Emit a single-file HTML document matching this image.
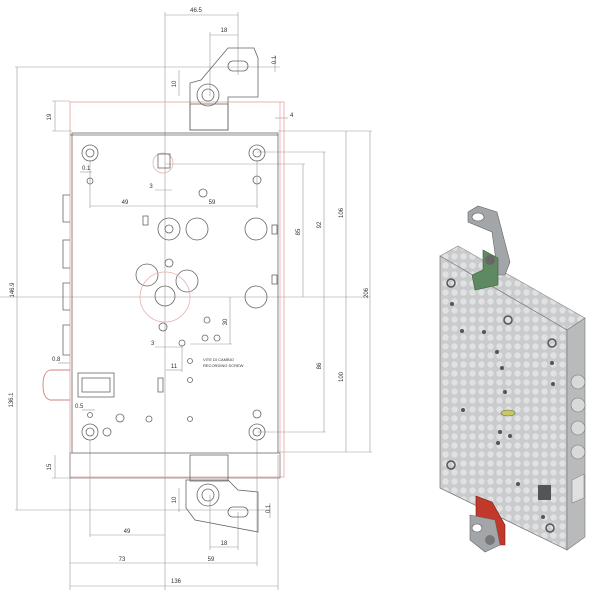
<!DOCTYPE html>
<html><head><meta charset="utf-8"><style>
html,body{margin:0;padding:0;background:#fff;width:600px;height:600px;overflow:hidden}
svg{display:block}
text{font-family:"Liberation Sans",sans-serif;font-size:6px;fill:#333}
</style></head><body>
<svg width="600" height="600" viewBox="0 0 600 600" xmlns="http://www.w3.org/2000/svg">
<defs>
<pattern id="dots" width="9" height="9" patternUnits="userSpaceOnUse">
<rect width="9" height="9" fill="#c9cbcc"/>
<circle cx="4.5" cy="4.5" r="3.2" fill="#dfe1e2"/>
</pattern>
</defs>
<g fill="none" stroke="#999" stroke-width="0.6">
<!-- long construction lines -->
<line x1="165" y1="12" x2="165" y2="590"/>
<line x1="0" y1="297" x2="370" y2="297"/>
<!-- left 146.9 -->
<line x1="17" y1="67" x2="17" y2="510"/>
<line x1="15" y1="67" x2="280" y2="67"/>
<line x1="15" y1="510" x2="270" y2="510"/>
<!-- 19 top -->
<line x1="55" y1="101" x2="55" y2="131"/><line x1="52" y1="101" x2="70" y2="101"/><line x1="52" y1="131" x2="72" y2="131"/>
<!-- 15 bottom -->
<line x1="55" y1="455" x2="55" y2="478"/><line x1="52" y1="478" x2="72" y2="478"/>
<!-- top dims -->
<line x1="165" y1="15" x2="238" y2="15"/><line x1="238" y1="12" x2="238" y2="75"/>
<line x1="210" y1="35" x2="238" y2="35"/><line x1="210" y1="32" x2="210" y2="96"/>
<line x1="179" y1="70" x2="179" y2="96"/>
<line x1="275" y1="55" x2="275" y2="72"/>
<!-- right dims -->
<line x1="303" y1="164" x2="303" y2="297"/><line x1="165" y1="164" x2="305" y2="164"/>
<line x1="324" y1="152" x2="324" y2="432"/><line x1="257" y1="152" x2="326" y2="152"/><line x1="257" y1="432" x2="326" y2="432"/>
<line x1="346" y1="131" x2="346" y2="452"/>
<line x1="370" y1="131" x2="370" y2="452"/><line x1="278" y1="131" x2="372" y2="131"/><line x1="278" y1="452" x2="372" y2="452"/>
<line x1="275" y1="118" x2="288" y2="118"/>
<line x1="230" y1="297" x2="230" y2="344"/><line x1="190" y1="344" x2="232" y2="344"/>
<!-- inner dims -->
<line x1="90" y1="206" x2="257" y2="206"/><line x1="90" y1="160" x2="90" y2="208"/><line x1="257" y1="160" x2="257" y2="208"/>
<line x1="155" y1="190" x2="172" y2="190"/>
<line x1="155" y1="347" x2="182" y2="347"/>
<line x1="166" y1="370" x2="182" y2="370"/><line x1="182" y1="345" x2="182" y2="372"/>
<line x1="58" y1="363" x2="70" y2="363"/>
<line x1="82" y1="410" x2="95" y2="410"/>
<line x1="80" y1="172" x2="92" y2="172"/>
<!-- bottom dims -->
<line x1="90" y1="440" x2="90" y2="537"/><line x1="90" y1="535" x2="165" y2="535"/>
<line x1="70" y1="455" x2="70" y2="590"/><line x1="70" y1="563" x2="165" y2="563"/>
<line x1="257" y1="440" x2="257" y2="566"/><line x1="165" y1="563" x2="257" y2="563"/>
<line x1="278" y1="455" x2="278" y2="590"/><line x1="70" y1="586" x2="278" y2="586"/>
<line x1="210" y1="495" x2="210" y2="550"/><line x1="238" y1="512" x2="238" y2="550"/><line x1="210" y1="547" x2="238" y2="547"/>
<line x1="179" y1="488" x2="179" y2="512"/>
<line x1="270" y1="503" x2="270" y2="518"/>
</g>
<!-- red outline -->
<rect x="70" y="102" width="214" height="375" fill="none" stroke="#e8a0a0" stroke-width="0.8"/>
<line x1="280" y1="102" x2="280" y2="477" stroke="#e8a0a0" stroke-width="0.7"/>
<!-- body -->
<g fill="none" stroke="#666" stroke-width="0.8">
<rect x="72" y="133" width="206" height="320"/>
<line x1="70" y1="135" x2="278" y2="135"/>
<rect x="70" y="453" width="210" height="25" stroke="#888"/>
<!-- hinges left -->
<path d="M70 195 H63 V222 H70 M70 240 H63 V268 H70 M70 283 H63 V310 H70 M70 325 H63 V355 H70"/>
<!-- top bracket -->
<path d="M190 130 V83 L201 80 L228 48 H254 L258 58 V97 L228 97 V110 L228 130 Z"/>
<rect x="190" y="104" width="38" height="26"/>
<circle cx="208" cy="95" r="11"/><circle cx="208" cy="95" r="6"/>
<rect x="228" y="61" width="20" height="10" rx="5"/>
<!-- bottom bracket -->
<rect x="190" y="455" width="38" height="26"/>
<path d="M186 480 V508 L195 520 L258 532 V492 L238 490 L228 480 Z"/>
<circle cx="208" cy="495" r="11"/><circle cx="208" cy="495" r="6"/>
<rect x="228" y="507" width="20" height="10" rx="5"/>
<!-- corner screws -->
<circle cx="90" cy="153" r="8"/><circle cx="90" cy="153" r="4"/>
<circle cx="257" cy="153" r="8"/><circle cx="257" cy="153" r="4"/>
<circle cx="90" cy="432" r="8"/><circle cx="90" cy="432" r="4"/>
<circle cx="257" cy="432" r="8"/><circle cx="257" cy="432" r="4"/>
<!-- spindle -->
<circle cx="163" cy="163" r="10" stroke="#e8b0b0"/>
<rect x="158" y="154" width="12" height="14"/>
<!-- large holes -->
<circle cx="169" cy="229" r="11"/><circle cx="169" cy="229" r="4"/>
<circle cx="197" cy="229" r="11"/>
<circle cx="256" cy="229" r="11"/>
<circle cx="147" cy="275" r="11"/>
<circle cx="187" cy="281" r="11"/>
<circle cx="165" cy="297" r="25" stroke="#e8b0b0"/>
<circle cx="165" cy="296" r="10"/>
<circle cx="256" cy="297" r="11"/>
<circle cx="169" cy="263" r="4"/>
<circle cx="203" cy="193" r="4"/>
<circle cx="257" cy="180" r="4"/>
<circle cx="90" cy="181" r="3"/>
<circle cx="163" cy="327" r="4"/>
<circle cx="182" cy="343" r="3"/>
<circle cx="207" cy="320" r="3"/>
<circle cx="217" cy="338" r="3"/>
<circle cx="205" cy="338" r="3"/>
<circle cx="190" cy="361" r="2.5"/>
<circle cx="190" cy="380" r="2.5"/>
<circle cx="120" cy="418" r="4"/>
<circle cx="149" cy="419" r="3"/>
<circle cx="190" cy="419" r="2.5"/>
<circle cx="257" cy="414" r="4"/>
<circle cx="107" cy="432" r="4"/>
<circle cx="90" cy="415" r="2.5"/>
<rect x="143" y="216" width="5" height="9"/>
<rect x="158" y="378" width="5" height="14"/>
<rect x="272" y="225" width="5" height="9"/>
<rect x="272" y="275" width="5" height="9"/>
<!-- lock cylinder box -->
<rect x="78" y="373" width="36" height="24"/>
<rect x="82" y="378" width="28" height="14"/>
</g>
<path d="M70 370 H50 Q43 372 43 385 Q43 398 50 400 H70" fill="none" stroke="#d08080" stroke-width="0.9"/>
<!-- labels -->
<text x="196" y="12" text-anchor="middle">46.5</text>
<text x="224" y="32" text-anchor="middle">18</text>
<text x="125" y="204" text-anchor="middle">49</text>
<text x="212" y="204" text-anchor="middle">59</text>
<text x="151" y="188" text-anchor="middle">3</text>
<text x="82" y="170">0.1</text>
<text x="52" y="361">0.8</text>
<text x="75" y="408">0.5</text>
<text x="151" y="345">3</text>
<text x="174" y="368" text-anchor="middle">11</text>
<text x="203" y="361" style="font-size:4px">VITE DI CAMBIO</text>
<text x="203" y="367" style="font-size:4px">RECORDING SCREW</text>
<text x="127" y="533" text-anchor="middle">49</text>
<text x="122" y="561" text-anchor="middle">73</text>
<text x="211" y="561" text-anchor="middle">59</text>
<text x="224" y="545" text-anchor="middle">18</text>
<text x="176" y="583" text-anchor="middle">136</text>
<g style="font-size:6px">
<text transform="translate(14,290) rotate(-90)" text-anchor="middle">146.9</text>
<text transform="translate(13,400) rotate(-90)" text-anchor="middle">136.1</text>
<text transform="translate(51,117) rotate(-90)" text-anchor="middle">19</text>
<text transform="translate(51,467) rotate(-90)" text-anchor="middle">15</text>
<text transform="translate(176,84) rotate(-90)" text-anchor="middle">10</text>
<text transform="translate(176,500) rotate(-90)" text-anchor="middle">10</text>
<text transform="translate(276,60) rotate(-90)" text-anchor="middle">0.1</text>
<text transform="translate(270,509) rotate(-90)" text-anchor="middle">0.1</text>
<text transform="translate(300,232) rotate(-90)" text-anchor="middle">85</text>
<text transform="translate(321,225) rotate(-90)" text-anchor="middle">92</text>
<text transform="translate(343,213) rotate(-90)" text-anchor="middle">106</text>
<text transform="translate(368,293) rotate(-90)" text-anchor="middle">206</text>
<text transform="translate(321,366) rotate(-90)" text-anchor="middle">86</text>
<text transform="translate(343,377) rotate(-90)" text-anchor="middle">100</text>
<text transform="translate(227,322) rotate(-90)" text-anchor="middle">30</text>
</g>
<text x="290" y="117">4</text>
<!-- 3D lock -->
<polygon points="440,256 458,246 585,318 567,330" fill="url(#dots)" stroke="#888" stroke-width="0.6"/>
<polygon points="440,256 567,330 567,550 440,488" fill="url(#dots)" stroke="#777" stroke-width="0.7"/>
<polygon points="567,330 585,318 585,537 567,550" fill="#b8babb" stroke="#777" stroke-width="0.6"/>
<g fill="#d8d9da" stroke="#777" stroke-width="0.6">
<circle cx="578" cy="382" r="7"/><circle cx="578" cy="405" r="7"/><circle cx="578" cy="428" r="7"/><circle cx="578" cy="452" r="7"/>
</g>
<polygon points="572,480 584,474 584,498 572,503" fill="#e0e0e0" stroke="#777" stroke-width="0.5"/>
<!-- top bracket -->
<polygon points="468,212 478,206 497,212 510,262 505,275 498,275 492,232 468,222" fill="#a3a6a8" stroke="#666" stroke-width="0.6"/>
<ellipse cx="478" cy="217" rx="6" ry="4" fill="#fff" stroke="#555" stroke-width="0.6"/>
<polygon points="483,250 498,258 498,285 475,290 472,275 483,270" fill="#5e8a62" stroke="#3d5e40" stroke-width="0.6"/>
<circle cx="490" cy="260" r="5" fill="#666"/>
<!-- bottom bracket -->
<polygon points="476,496 492,502 505,525 505,545 496,545 476,520" fill="#c0392b" stroke="#7a2018" stroke-width="0.6"/>
<polygon points="470,515 495,520 500,545 485,552 470,540" fill="#a3a6a8" stroke="#666" stroke-width="0.6"/>
<ellipse cx="477" cy="528" rx="5" ry="4" fill="#fff" stroke="#555" stroke-width="0.6"/>
<circle cx="490" cy="540" r="5" fill="#777"/>
<g fill="none" stroke="#555" stroke-width="1.5">
<circle cx="451" cy="283" r="4"/><circle cx="508" cy="320" r="4"/><circle cx="552" cy="343" r="4"/>
<circle cx="451" cy="465" r="4"/><circle cx="550" cy="528" r="4"/>
</g>
<g fill="#555">
<circle cx="452" cy="304" r="2"/><circle cx="462" cy="331" r="2"/><circle cx="484" cy="332" r="2"/>
<circle cx="497" cy="352" r="2"/><circle cx="502" cy="368" r="2"/><circle cx="552" cy="363" r="2"/><circle cx="553" cy="384" r="2"/>
<circle cx="505" cy="392" r="2"/><circle cx="463" cy="410" r="2"/><circle cx="500" cy="432" r="2"/><circle cx="510" cy="436" r="2"/>
<circle cx="498" cy="443" r="2"/><circle cx="518" cy="484" r="2"/><circle cx="543" cy="517" r="2"/>
</g>
<ellipse cx="508" cy="413" rx="7" ry="3" fill="#c8c860" stroke="#666" stroke-width="0.6"/>
<rect x="538" y="485" width="13" height="15" fill="#555"/>
</svg>
</body></html>
